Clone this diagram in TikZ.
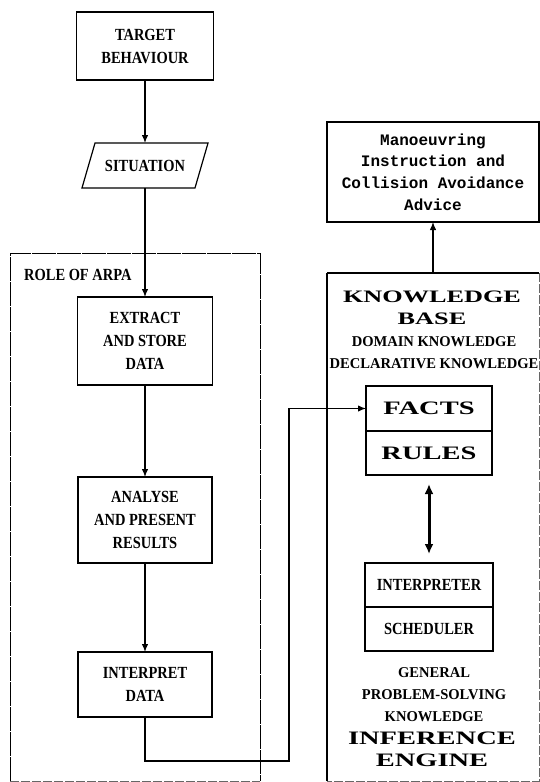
\documentclass[tikz,border=0pt]{standalone}
\usepackage{fontspec}
\usetikzlibrary{arrows.meta}
\newfontfamily\condbf{Liberation Serif}[FakeStretch=0.85]
\newfontfamily\subbf{Liberation Serif}[FakeStretch=0.97]
\newfontfamily\widebf{Liberation Serif}[FakeStretch=1.5]
\newfontfamily\monobf{Liberation Mono}
\begin{document}
\begin{tikzpicture}[x=1pt,y=-1pt,
  label/.style={font=\condbf\bfseries\fontsize{17}{23}\selectfont,inner sep=0pt},
  box/.style={label,draw,line width=1.2pt,outer sep=0pt,align=center},
  cell/.style={draw,line width=1.1pt,inner sep=0pt,outer sep=0pt},
  wide/.style={font=\widebf\bfseries\fontsize{19}{22}\selectfont,align=center,inner sep=0pt},
  small/.style={font=\subbf\bfseries\fontsize{15}{22}\selectfont,align=center,inner sep=0pt},
  frame/.style={inner sep=0pt,outer sep=0pt},
  conn/.style={line width=1.2pt},
  arr/.style={conn,-{Latex[length=8pt,width=6.5pt]}},
  faint/.style={line width=0.7pt,black!60,dash pattern=on 9pt off 2pt},
]
\useasboundingbox (0,0) rectangle (540,782);

% --- left column: ARPA processing chain ---
\node[box,minimum width=137pt,minimum height=68pt] (tb) at (145,46) {TARGET\\BEHAVIOUR};
\node[draw,line width=1.2pt,xslant=0.29,minimum width=113pt,minimum height=45pt,inner sep=0pt,outer sep=0pt]
  (sitshape) at (145,165.5) {};
\node[label] (sit) at (145,166) {SITUATION};

\node[frame,minimum width=250pt,minimum height=528pt] (role) at (135,517) {};
\draw[line width=0.9pt,dash pattern=on 24pt off 1pt] (role.south west) -- (role.north west) -- (role.north east) -- (role.south east);
\draw[faint] (role.south west) -- (role.south east);
\node[label,anchor=west] (rolelbl) at (24,275) {ROLE OF ARPA};

\node[box,minimum width=135pt,minimum height=88pt] (extract) at (145,341) {EXTRACT\\AND STORE\\DATA};
\node[box,minimum width=134pt,minimum height=86pt] (analyse) at (145,520) {ANALYSE\\AND PRESENT\\RESULTS};
\node[box,minimum width=134pt,minimum height=65pt] (interp) at (145,684.5) {INTERPRET\\DATA};

\draw[arr] (tb.south) -- (tb.south |- sitshape.north);
\draw[arr] (sit.center |- sitshape.south) -- (extract.north);
\draw[arr] (extract.south) -- (analyse.north);
\draw[arr] (analyse.south) -- (interp.north);

% --- right column: expert system ---
\node[box,font=\monobf\bfseries\fontsize{16}{21.7}\selectfont,minimum width=212pt,minimum height=100pt]
  (advice) at (433,172) {Manoeuvring\\Instruction and\\Collision Avoidance\\Advice};

\node[frame,minimum width=212pt,minimum height=508pt] (kb) at (433,527) {};
\draw[line width=1.7pt] (kb.south west) -- (kb.north west);
\draw[line width=1.2pt] (kb.north west) -- (kb.north east);
\draw[faint] (kb.north east) -- (kb.south east) -- (kb.south west);

\node[wide,font=\widebf\bfseries\fontsize{17.5}{22}\selectfont] (kbtitle) at (432,308) {KNOWLEDGE\\BASE};
\node[small] (kbsub) at (434,353) {DOMAIN KNOWLEDGE\\DECLARATIVE KNOWLEDGE};

\node[cell,minimum width=126pt,minimum height=45pt] (facts) at (429,408.5) {};
\node[cell,minimum width=126pt,minimum height=44pt] (rules) at (429,453) {};
\node[wide] (factslbl) at (facts.center) {FACTS};
\node[wide] (ruleslbl) at (rules.center) {RULES};

\node[cell,minimum width=128pt,minimum height=44pt] (interpreter) at (429,585) {};
\node[cell,minimum width=128pt,minimum height=44pt] (scheduler) at (429,629) {};
\node[label] (interpreterlbl) at (interpreter.center) {INTERPRETER};
\node[label] (schedulerlbl) at (scheduler.center) {SCHEDULER};

\node[small] (general) at (434,695) {GENERAL\\PROBLEM-SOLVING\\KNOWLEDGE};
\node[wide] (engine) at (432,749) {INFERENCE\\ENGINE};

\draw[line width=3pt,{Latex[length=10pt,width=9pt]}-{Latex[length=10pt,width=9pt]}]
  ([yshift=-9pt]rules.south) -- ([yshift=9pt]interpreter.north);

\draw[arr] (kb.north) -- (advice.south);

% --- data handed from the ARPA chain to the fact base ---
\coordinate (turn) at (289,761);
\draw[arr] (interp.south) |- (turn) |- (facts.west);
\end{tikzpicture}
\end{document}
